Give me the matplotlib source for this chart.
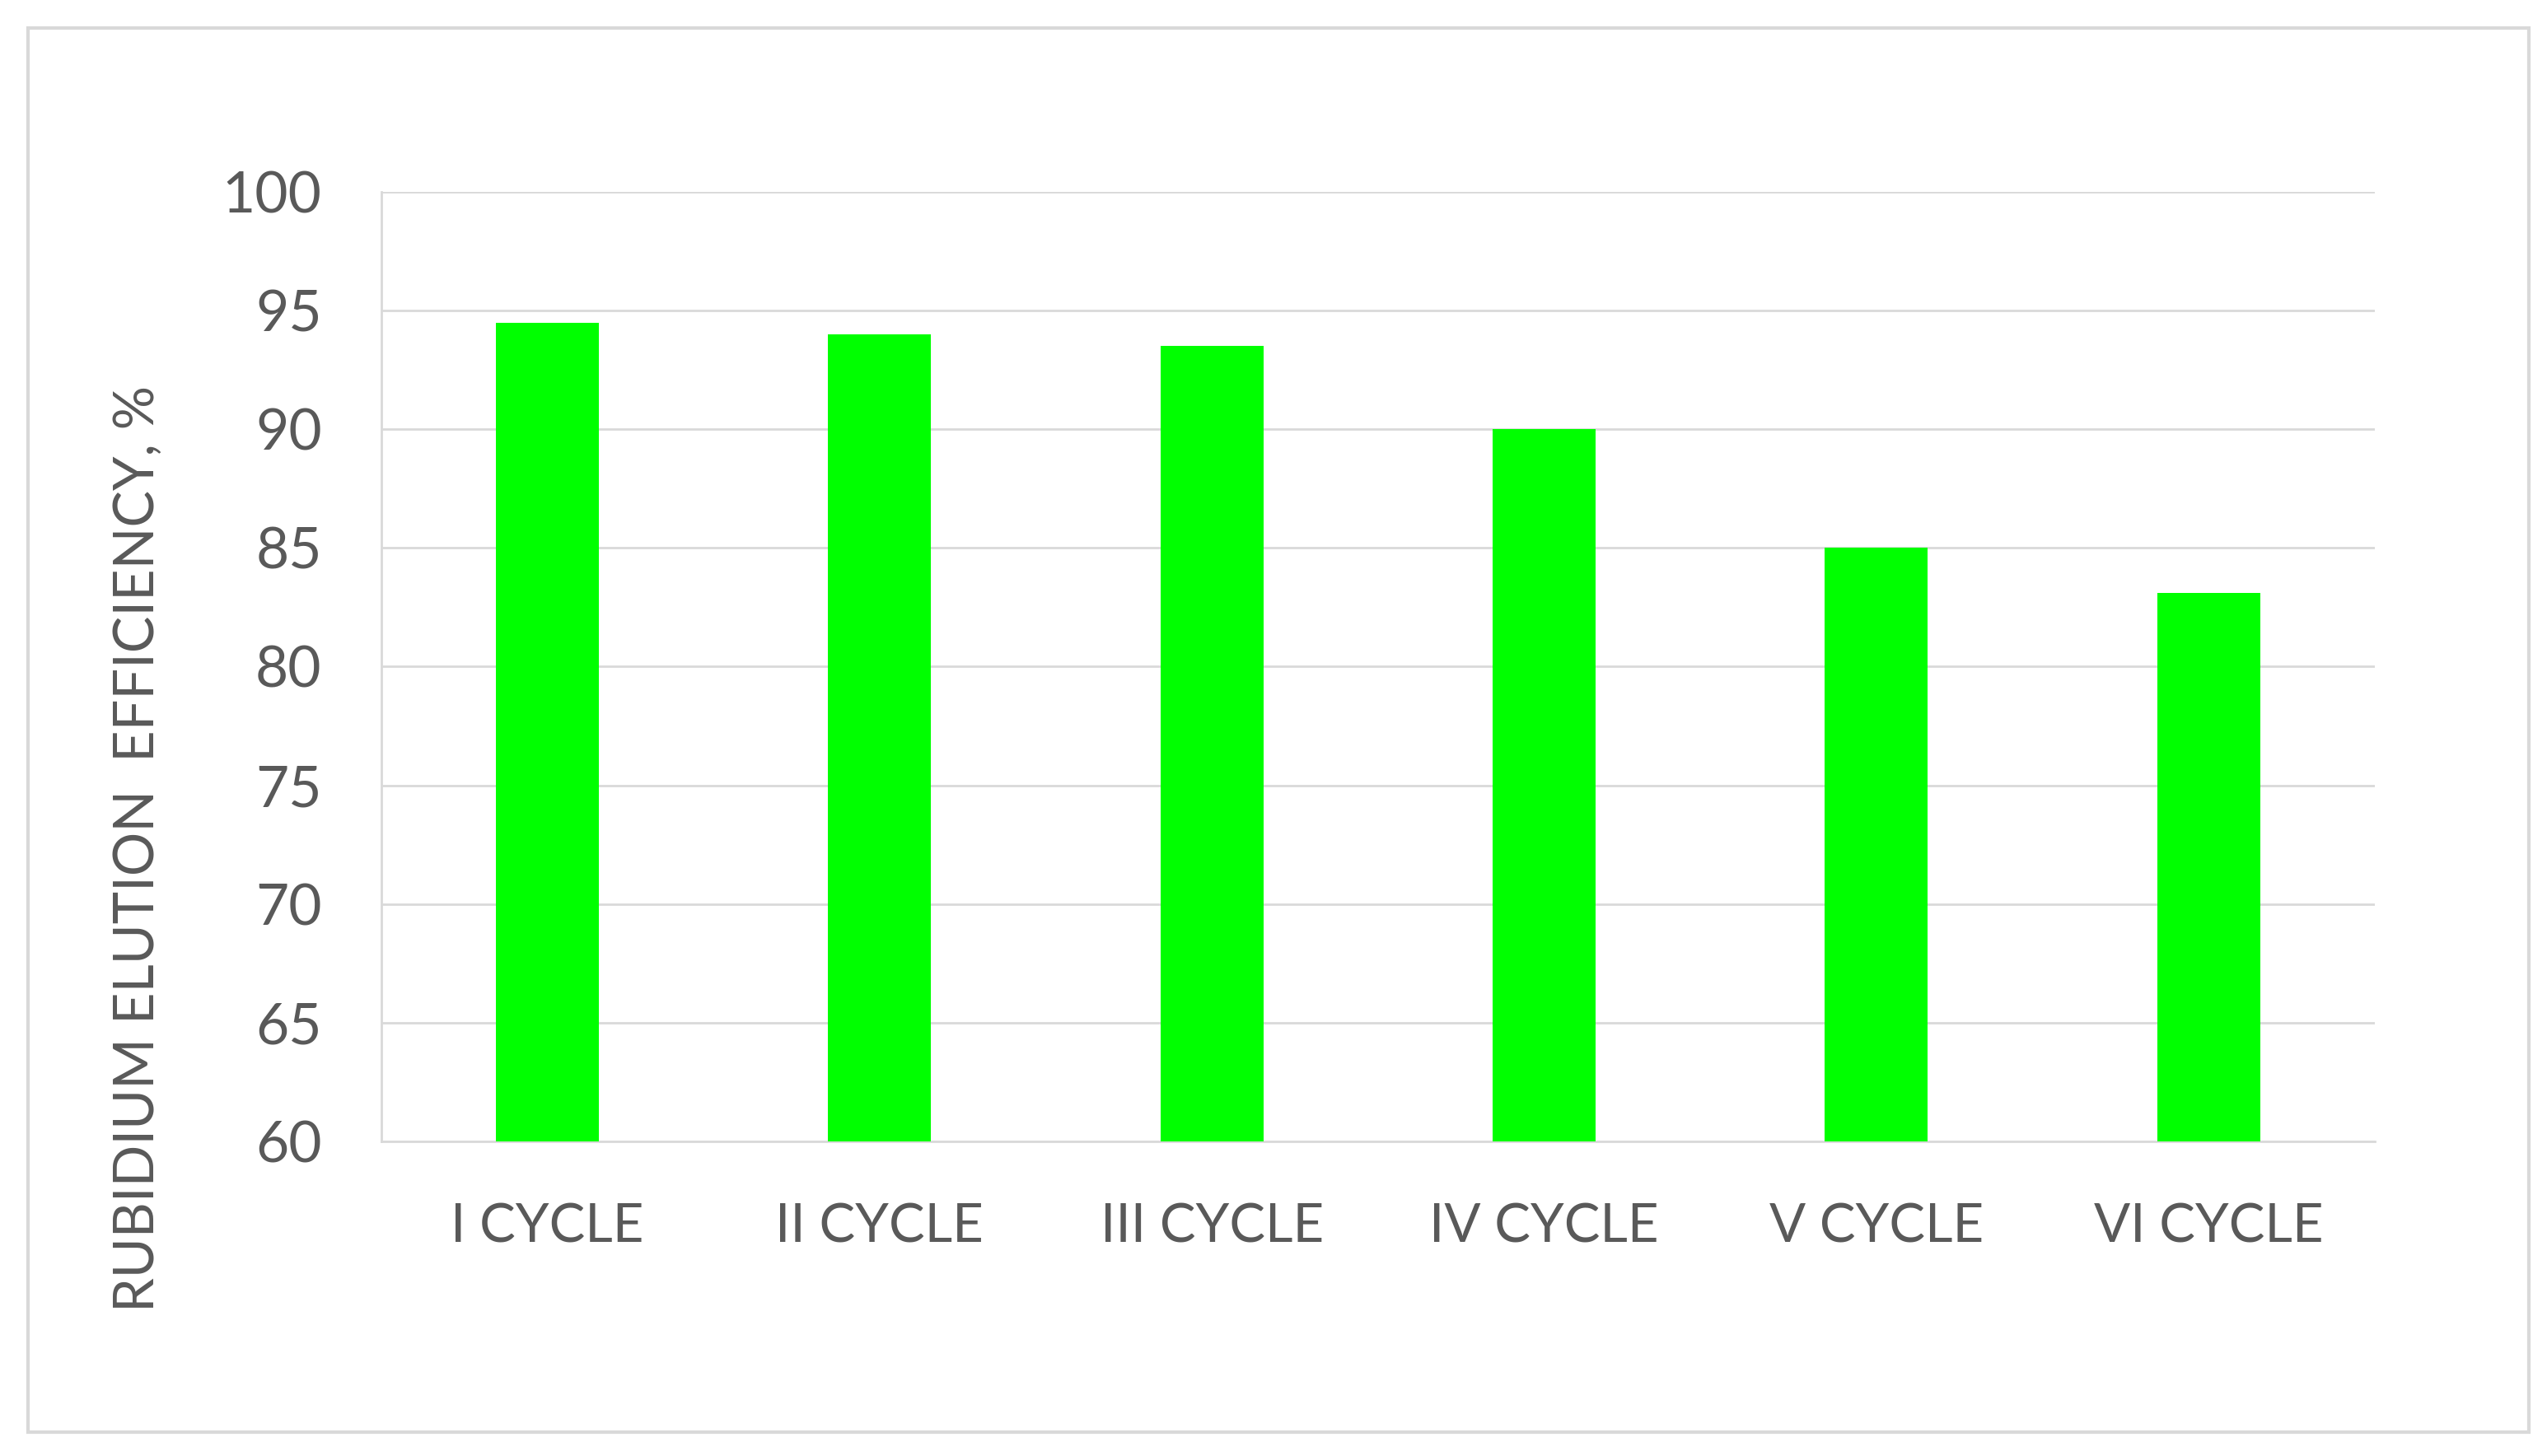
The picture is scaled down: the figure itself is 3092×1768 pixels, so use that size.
import matplotlib
matplotlib.use("Agg")
from matplotlib import pyplot as plt
from matplotlib.patches import Rectangle

# data
cycles = ["I CYCLE", "II CYCLE", "III CYCLE", "IV CYCLE", "V CYCLE", "VI CYCLE"]
efficiency = [94.5, 94.0, 93.5, 90.0, 85.0, 83.1]
y_ticks = [60, 65, 70, 75, 80, 85, 90, 95, 100]

text_color = "#595959"
grid_color = "#d9d9d9"

plt.rcParams['font.family'] = ['Lato', 'DejaVu Sans']

fig = plt.figure(figsize=(15.46, 8.84), dpi=200)
ax = fig.add_axes([0.1497, 0.2161, 0.7827, 0.6521])

x = list(range(len(cycles)))
ax.bar(x, efficiency, width=0.31, color="#00ff00", zorder=3)

ax.set_xlim(-0.5, len(cycles) - 0.5)
ax.set_ylim(60, 100)
ax.set_yticks(y_ticks)
ax.set_xticks(x)
ax.set_xticklabels(cycles)
ax.yaxis.grid(True, color=grid_color, linewidth=1.0, zorder=0)
ax.tick_params(axis='y', length=0, labelsize=25, colors=text_color, pad=26)
ax.tick_params(axis='x', length=0, labelsize=23.5, colors=text_color, pad=27)

for side in ["top", "right"]:
    ax.spines[side].set_visible(False)
for side in ["left", "bottom"]:
    ax.spines[side].set_color(grid_color)
    ax.spines[side].set_linewidth(1.0)

fig.text(0.0543, 0.4174, "RUBIDIUM ELUTION  EFFICIENCY, %", rotation=90,
         ha="center", va="center", fontsize=24, color=text_color)

# light outer frame around the whole chart
fig.patches.append(Rectangle((0.011, 0.0164), 0.9819, 0.9646, transform=fig.transFigure,
                             fill=False, edgecolor=grid_color, linewidth=1.5))

plt.savefig("out.png", dpi=200, facecolor="white")
plt.close()
